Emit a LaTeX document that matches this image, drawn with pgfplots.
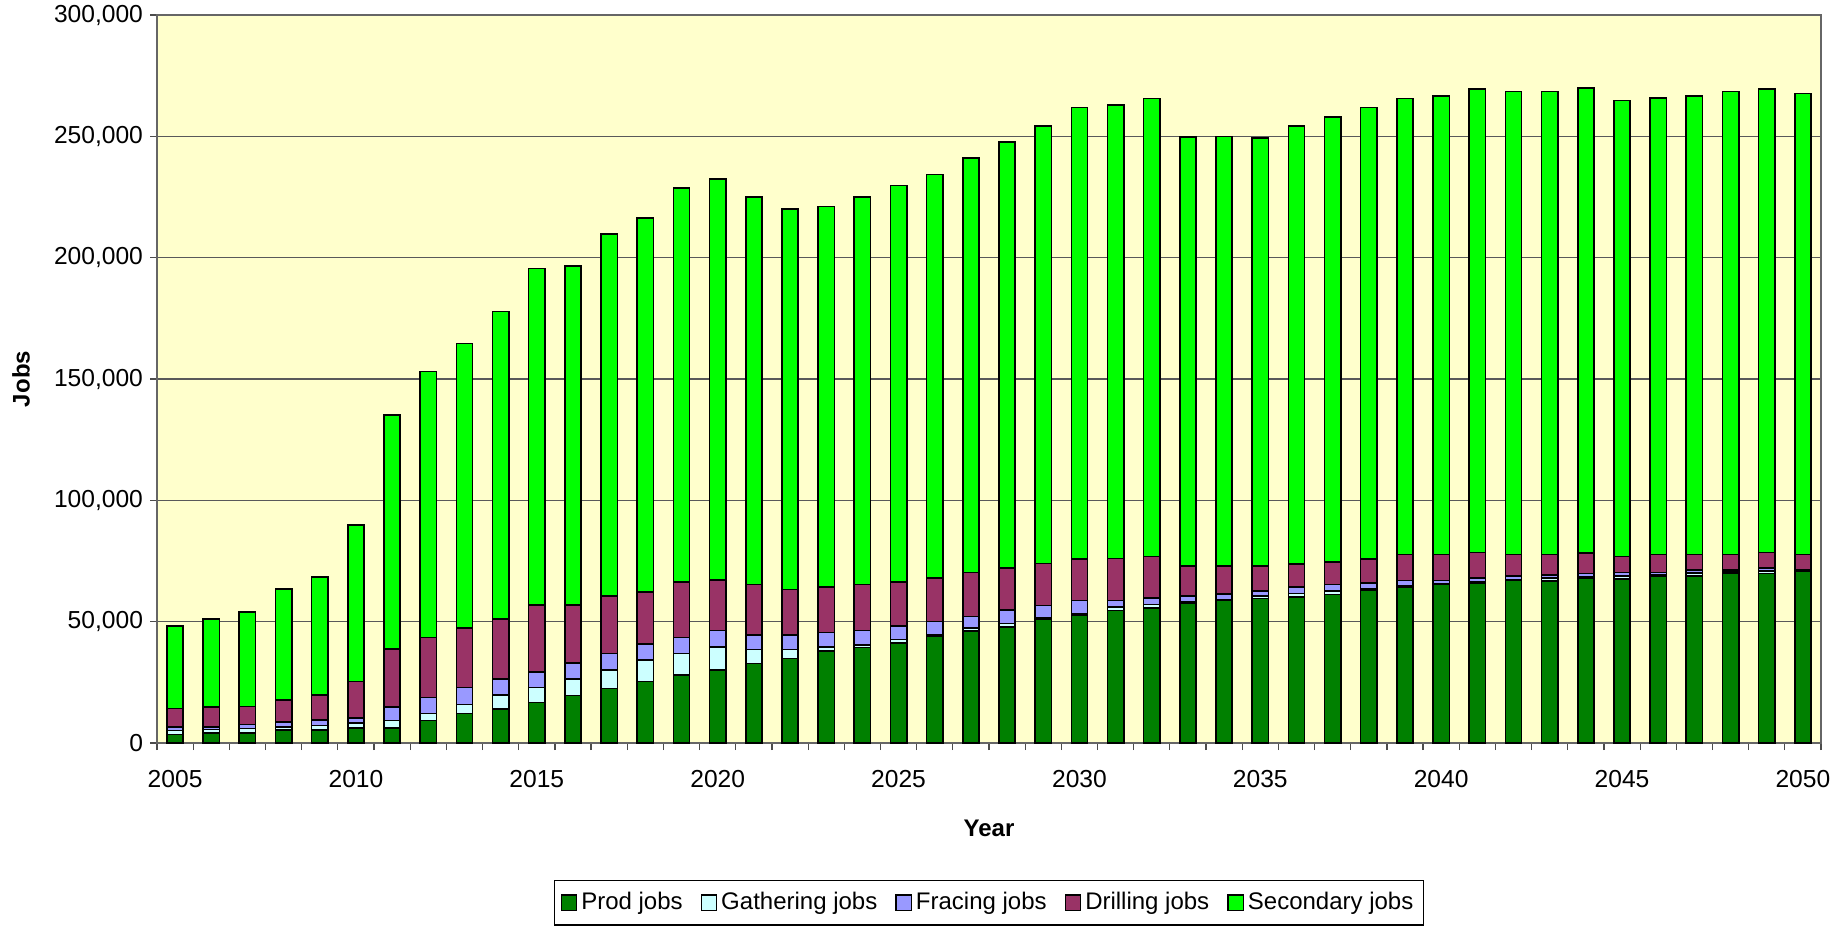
\documentclass[border=0pt]{standalone}
\usepackage{pgfplots}
\pgfplotsset{compat=1.18}
\usepackage{pgfplotstable}
\usepackage{fontspec}
\setmainfont{Liberation Sans}

\definecolor{bgyellow}{HTML}{FFFFCC}
\definecolor{prodc}{HTML}{008000}
\definecolor{gathc}{HTML}{CCFFFF}
\definecolor{fracc}{HTML}{9999FF}
\definecolor{drillc}{HTML}{993366}
\definecolor{secc}{HTML}{00FF00}

% year prod gathering fracing drilling secondary
\pgfplotstableread{
year prod gath frac drill sec
2005 3500 1600 1400 7700 34000
2006 4200 1300 1200 8200 36100
2007 4200 1800 1600 7400 38900
2008 5300 1200 2100 9200 45600
2009 5300 1900 2300 10200 48600
2010 6300 2000 2000 15100 64500
2011 6300 3000 5600 23900 96400
2012 9300 2800 6700 24700 109600
2013 12100 3700 7000 24500 117300
2014 13900 5800 6700 24700 126700
2015 16700 6100 6500 27600 138600
2016 19500 6900 6500 24000 139600
2017 22500 7700 6600 23700 149300
2018 25300 8800 6600 21600 154000
2019 28100 8700 6700 22800 162300
2020 30200 9400 6700 20800 165300
2021 32700 5800 6000 20800 159600
2022 34800 3800 5900 18700 156900
2023 37800 1700 6000 18900 156700
2024 39300 1100 5900 19000 159600
2025 41300 1400 5500 18100 163400
2026 44200 500 5300 18100 166200
2027 46100 1200 4800 18100 170900
2028 47900 1400 5600 17100 175600
2029 51000 500 5100 17300 180300
2030 52800 500 5400 17100 186100
2031 54600 1400 2700 17300 186800
2032 55600 1400 2800 17100 188700
2033 57700 600 2200 12500 176600
2034 58700 500 2200 11600 177000
2035 59500 1200 1900 10400 176300
2036 60200 1400 2600 9500 180500
2037 61200 1400 2700 9300 183300
2038 63000 500 2500 9800 186100
2039 64200 500 2300 10600 188000
2040 65300 400 1300 10600 189100
2041 66000 400 1700 10400 190900
2042 67000 400 1400 8800 190900
2043 66700 1200 1300 8400 190900
2044 67800 600 1400 8600 191600
2045 67700 1200 1300 6700 187900
2046 68800 700 700 7400 188100
2047 68800 1200 1300 6300 189100
2048 69800 700 700 6400 190900
2049 69800 1100 1100 6500 190900
2050 70900 300 300 6100 190000
}\jobsdata

\begin{document}
\begin{tikzpicture}
\pgfplotsset{
  jobbar/.style={fill=#1, draw=black, line width=0.8pt,
    legend image code/.code={\draw[fill=#1, draw=black, line width=0.7pt] (0pt,-3.8pt) rectangle (7.6pt,3.8pt);}},
}
\begin{axis}[
  scale only axis,
  width=832pt, height=364pt,
  xmin=2004.5, xmax=2050.5,
  ymin=0, ymax=300000,
  ybar stacked, bar width=0.45,
  axis background/.style={fill=bgyellow},
  axis line style={black!60, line width=0.7pt},
  tick pos=left, tick align=outside,
  major tick length=3.5pt,
  tick style={black!70, line width=0.6pt},
  ytick={0,50000,...,300000},
  ymajorgrids, grid style={black!65, line width=0.6pt},
  scaled y ticks=false,
  yticklabel style={/pgf/number format/.cd, fixed, 1000 sep={,}},
  xtick={2004.5,2005.5,...,2050.5},
  xticklabels={},
  extra x ticks={2005,2010,...,2050},
  extra x tick style={major tick length=0pt, grid=none,
    xticklabel style={/pgf/number format/1000 sep={}, yshift=-10pt}},
  tick label style={font=\fontsize{12.3}{14}\selectfont, /pgf/number format/assume math mode=true},
  every axis y label/.style={at={([xshift=-68pt]rel axis cs:0,0.5)}, rotate=90, anchor=center,
    font=\fontsize{12}{14}\selectfont\bfseries},
  every axis x label/.style={at={([yshift=-42.5pt]rel axis cs:0.5,0)}, anchor=center,
    font=\fontsize{12}{14}\selectfont\bfseries},
  xlabel={Year}, ylabel={Jobs},
  legend columns=5,
  legend style={at={(0.5,0)}, anchor=north, yshift=-68.5pt,
    draw=black, line width=0.6pt, fill=white,
    font=\fontsize{12}{14}\selectfont,
    inner xsep=3pt, inner ysep=4pt,
    /tikz/every even column/.append style={column sep=7pt}},
  legend cell align=left,
]
\addplot+[jobbar=prodc] table[x=year, y=prod] {\jobsdata};
\addlegendentry{Prod jobs}
\addplot+[jobbar=gathc] table[x=year, y=gath] {\jobsdata};
\addlegendentry{Gathering jobs}
\addplot+[jobbar=fracc] table[x=year, y=frac] {\jobsdata};
\addlegendentry{Fracing jobs}
\addplot+[jobbar=drillc] table[x=year, y=drill] {\jobsdata};
\addlegendentry{Drilling jobs}
\addplot+[jobbar=secc] table[x=year, y=sec] {\jobsdata};
\addlegendentry{Secondary jobs}
\coordinate (sw) at (rel axis cs:0,0);
\coordinate (ne) at (rel axis cs:1,1);
\end{axis}
\pgfresetboundingbox
\path ([shift={(-78.5pt,-91.5pt)}]sw) rectangle ([shift={(10.5pt,7.5pt)}]ne);
\end{tikzpicture}
\end{document}
